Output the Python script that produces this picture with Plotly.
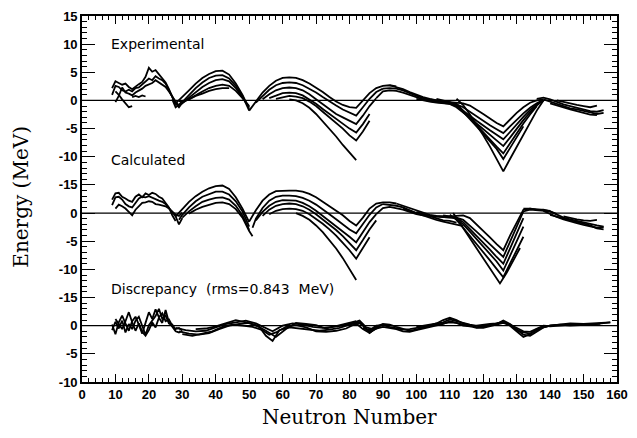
import plotly.graph_objects as go

# ---------------- Experimental shell corrections (MeV) vs neutron number ----------------
exp_l1_n = [9, 10, 11, 12, 13, 14, 15, 16, 17, 18, 19, 20, 21, 22, 23, 24, 25, 26, 27, 28]
exp_l1_e = [2.2, 3.4, 3.1, 2.8, 3.0, 2.4, 2.0, 2.5, 2.9, 3.3, 4.2, 5.8, 5.1, 5.4, 4.6, 4.0, 3.2, 2.0, 0.6, -0.8]
exp_l2_n = [9, 10, 11, 12, 13, 14, 15, 16, 17, 18, 19, 20, 21, 22, 23, 24, 25, 26, 27, 28, 29, 30]
exp_l2_e = [1.0, 2.6, 2.4, 1.8, 1.6, 1.9, 1.6, 2.2, 2.3, 2.8, 3.4, 3.9, 3.6, 4.3, 3.9, 3.6, 3.0, 1.8, 0.6, -0.5, -1.2, -0.4]
exp_l3_n = [10, 11, 12, 13, 14, 15, 16, 17, 18, 19, 20, 21, 22, 23, 24, 25, 26, 27, 28, 29, 30]
exp_l3_e = [-0.3, 0.8, 2.3, 1.4, 1.2, 0.9, 1.4, 1.7, 2.1, 2.6, 2.8, 3.1, 3.6, 3.2, 2.8, 2.4, 1.6, 0.6, -0.2, -0.9, -0.1]
exp_l4_n = [10, 11, 12, 13, 14, 15]
exp_l4_e = [1.6, 1.0, 0.2, -0.5, -1.2, -1.0]
exp_l5_n = [15, 16, 17, 18, 19]
exp_l5_e = [0.6, 0.8, 0.6, 0.9, 0.7]

exp_m1a_n = [28, 30, 32, 34, 36, 38, 40, 42, 44, 46, 48, 50]
exp_m1a_e = [-0.5, 0.6, 1.8, 3.0, 4.0, 4.7, 5.2, 5.3, 4.6, 3.0, 1.0, -1.5]
exp_m1b_n = [27, 28, 30, 32, 34, 36, 38, 40, 42, 44, 46, 48, 50]
exp_m1b_e = [0.2, -1.2, -0.3, 1.0, 2.2, 3.2, 4.0, 4.4, 4.5, 3.9, 2.6, 0.8, -1.8]
exp_m1c_n = [29, 30, 32, 34, 36, 38, 40, 42, 44, 46, 48, 50]
exp_m1c_e = [0.0, -0.5, 0.5, 1.5, 2.4, 3.1, 3.6, 3.8, 3.4, 2.2, 0.6, -1.2]
exp_m1d_n = [30, 32, 34, 36, 38, 40, 42, 44, 46, 48, 50]
exp_m1d_e = [-0.4, 0.2, 0.9, 1.6, 2.2, 2.6, 2.8, 2.6, 1.7, 0.4, -1.0]
exp_m1e_n = [32, 34, 36, 38, 40, 42, 44]
exp_m1e_e = [0.2, 0.8, 1.2, 1.7, 2.0, 2.2, 2.2]

exp_m2a_n = [50, 52, 54, 56, 58, 60, 62, 64, 66, 68, 70, 72, 74, 76, 78, 80, 82, 84, 86, 88, 90, 92, 94]
exp_m2a_e = [-1.8, -0.2, 1.4, 2.6, 3.5, 4.0, 4.1, 4.0, 3.6, 3.0, 2.3, 1.5, 0.6, -0.2, -0.8, -1.2, -1.3, 0.0, 1.3, 2.2, 2.6, 2.7, 2.5]
exp_m2b_n = [52, 54, 56, 58, 60, 62, 64, 66, 68, 70, 72, 74, 76, 78, 80, 82, 84, 86, 88, 90]
exp_m2b_e = [-0.4, 0.8, 1.9, 2.7, 3.1, 3.2, 3.1, 2.7, 2.1, 1.4, 0.6, -0.2, -0.9, -1.6, -2.2, -2.7, -1.2, 0.3, 1.5, 2.1]
exp_m2c_n = [54, 56, 58, 60, 62, 64, 66, 68, 70, 72, 74, 76, 78, 80, 82, 84, 86, 88]
exp_m2c_e = [0.2, 1.1, 1.8, 2.2, 2.3, 2.2, 1.8, 1.1, 0.2, -0.7, -1.6, -2.4, -3.0, -3.6, -4.2, -2.7, -1.0, 0.4]
exp_m2d_n = [56, 58, 60, 62, 64, 66, 68, 70, 72, 74, 76, 78, 80, 82, 84, 86]
exp_m2d_e = [0.4, 0.9, 1.3, 1.4, 1.3, 0.9, 0.2, -0.6, -1.5, -2.4, -3.3, -4.2, -5.0, -5.7, -4.2, -2.4]
exp_m2e_n = [58, 60, 62, 64, 66, 68, 70, 72, 74, 76, 78, 80, 82, 84, 86]
exp_m2e_e = [0.3, 0.6, 0.8, 0.7, 0.4, -0.2, -1.0, -2.0, -3.0, -4.0, -5.0, -6.2, -7.1, -5.5, -3.6]
exp_m2f_n = [62, 64, 66, 68, 70, 72, 74, 76, 78, 80, 82]
exp_m2f_e = [0.2, 0.0, -0.5, -1.3, -2.4, -3.7, -5.0, -6.4, -7.9, -9.3, -10.6]

exp_m3a_n = [92, 94, 96, 98, 100, 102, 104, 106, 108, 110, 112, 114, 116, 118, 120, 122, 124, 126, 128, 130, 132, 134, 136, 138]
exp_m3a_e = [2.7, 2.4, 2.0, 1.5, 1.0, 0.6, 0.3, 0.0, -0.2, -0.3, -0.4, -0.5, -0.9, -1.6, -2.4, -3.2, -4.0, -4.6, -3.4, -2.2, -1.2, -0.4, 0.0, 0.2]
exp_m3b_n = [90, 92, 94, 96, 98, 100, 102, 104, 106, 108, 110, 112, 114, 116, 118, 120, 122, 124, 126, 128, 130, 132, 134, 136, 138]
exp_m3b_e = [2.1, 2.2, 2.1, 1.8, 1.3, 0.8, 0.4, 0.1, -0.2, -0.4, -0.5, -0.7, -1.2, -2.0, -2.9, -3.7, -4.4, -5.1, -5.8, -4.6, -3.4, -2.3, -1.3, -0.5, 0.1]
exp_m3c_n = [88, 90, 92, 94, 96, 98, 100, 102, 104, 106, 108, 110, 112, 114, 116, 118, 120, 122, 124, 126, 128, 130, 132, 134, 136, 138]
exp_m3c_e = [0.4, 1.6, 1.8, 1.7, 1.4, 1.0, 0.5, 0.2, -0.1, -0.3, -0.5, -0.6, -1.0, -1.8, -2.7, -3.6, -4.5, -5.3, -6.1, -6.9, -5.6, -4.2, -2.9, -1.7, -0.7, 0.0]
exp_m3d_n = [100, 102, 104, 106, 108, 110, 112, 114, 116, 118, 120, 122, 124, 126, 128, 130, 132, 134, 136, 138]
exp_m3d_e = [0.3, 0.0, -0.2, -0.4, -0.5, -0.6, -1.2, -2.1, -3.1, -4.1, -5.1, -6.1, -7.1, -8.1, -6.6, -5.0, -3.5, -2.1, -0.9, 0.1]
exp_m3e_n = [104, 106, 108, 110, 112, 114, 116, 118, 120, 122, 124, 126, 128, 130, 132, 134, 136]
exp_m3e_e = [0.2, 0.0, -0.2, -0.4, -0.6, -1.8, -3.1, -4.4, -5.7, -7.0, -8.2, -9.4, -7.6, -5.8, -4.1, -2.5, -1.0]
exp_m3f_n = [106, 108, 110, 112, 114, 116, 118, 120, 122, 124, 126, 128, 130, 132]
exp_m3f_e = [0.3, 0.0, -0.3, -0.8, -2.0, -3.3, -4.6, -5.9, -7.2, -8.6, -10.4, -8.4, -6.4, -4.6]
exp_m3g_n = [112, 114, 116, 118, 120, 122, 124, 126, 128, 130, 132, 134, 136, 138]
exp_m3g_e = [0.3, -0.8, -2.5, -4.3, -6.2, -8.2, -10.3, -12.6, -10.4, -8.2, -6.0, -3.8, -1.8, 0.0]

exp_r1_n = [136, 138, 140, 142, 144, 146, 148, 150, 152, 154, 156]
exp_r1_e = [0.3, 0.5, 0.2, -0.3, -0.7, -1.0, -1.3, -1.6, -1.9, -2.0, -1.7]
exp_r2_n = [138, 140, 142, 144, 146, 148, 150, 152, 154, 156]
exp_r2_e = [0.2, -0.2, -0.6, -1.0, -1.4, -1.6, -1.8, -2.1, -2.4, -2.2]
exp_r3_n = [140, 142, 144, 146, 148, 150, 152, 154]
exp_r3_e = [-0.5, -0.9, -1.3, -1.6, -1.9, -2.2, -2.5, -2.6]
exp_r4_n = [142, 144, 146, 148, 150, 152, 154]
exp_r4_e = [0.0, -0.3, -0.6, -0.8, -1.0, -1.2, -0.9]

# ---------------- Calculated shell corrections (MeV) ----------------
calc_l1_n = [9, 10, 11, 12, 13, 14, 15, 16, 17, 18, 19, 20, 21, 22, 23, 24, 25, 26, 27, 28]
calc_l1_e = [2.4, 3.5, 3.6, 2.9, 2.6, 2.2, 2.0, 2.9, 3.3, 2.8, 3.5, 3.2, 3.6, 3.4, 2.9, 2.6, 1.8, 1.0, -0.4, -1.4]
calc_l2_n = [9, 10, 11, 12, 13, 14, 15, 16, 17, 18, 19, 20, 21, 22, 23, 24, 25, 26, 27, 28, 29, 30]
calc_l2_e = [1.4, 2.8, 2.9, 2.4, 1.6, 1.2, 1.0, 1.9, 2.6, 2.9, 2.8, 3.0, 2.7, 2.4, 2.2, 2.0, 1.6, 0.9, 0.1, -0.6, -2.0, -0.9]
calc_l3_n = [10, 11, 12, 13, 14, 15, 16, 17, 18, 19, 20, 21, 22, 23, 24, 25, 26, 27, 28, 29, 30]
calc_l3_e = [0.8, 1.5, 1.2, 0.8, 0.2, -0.4, 0.6, 1.3, 1.8, 1.9, 2.1, 2.0, 1.6, 1.5, 1.3, 1.2, 0.8, 0.2, -0.3, -0.5, 0.1]

calc_m1a_n = [28, 30, 32, 34, 36, 38, 40, 42, 44, 46, 48, 50]
calc_m1a_e = [-0.6, 0.8, 2.0, 3.0, 3.8, 4.4, 4.8, 4.9, 4.3, 2.8, 0.8, -1.6]
calc_m1b_n = [29, 30, 32, 34, 36, 38, 40, 42, 44, 46, 48, 50]
calc_m1b_e = [-1.2, -0.3, 1.0, 2.1, 2.9, 3.4, 3.8, 3.8, 3.3, 2.1, 0.3, -2.4]
calc_m1c_n = [30, 32, 34, 36, 38, 40, 42, 44, 46, 48, 50]
calc_m1c_e = [-0.8, 0.3, 1.2, 2.0, 2.4, 2.7, 2.8, 2.4, 1.3, -0.4, -3.0]
calc_m1d_n = [32, 34, 36, 38, 40, 42, 44, 46, 48, 50, 51]
calc_m1d_e = [-0.1, 0.6, 1.1, 1.5, 1.8, 1.9, 1.6, 0.7, -0.8, -3.2, -4.1]

calc_m2a_n = [50, 52, 54, 56, 58, 60, 62, 64, 66, 68, 70, 72, 74, 76, 78, 80, 82, 84, 86, 88, 90, 92, 94]
calc_m2a_e = [-1.5, 0.5, 2.2, 3.3, 3.9, 4.0, 4.0, 4.0, 3.8, 3.4, 2.8, 2.0, 1.2, 0.4, -0.4, -1.4, -2.2, -0.8, 0.8, 1.7, 1.9, 1.9, 1.7]
calc_m2b_n = [51, 52, 54, 56, 58, 60, 62, 64, 66, 68, 70, 72, 74, 76, 78, 80, 82, 84, 86, 88, 90]
calc_m2b_e = [-2.6, -1.0, 0.9, 2.2, 2.9, 3.1, 3.1, 3.0, 2.7, 2.2, 1.5, 0.7, -0.2, -1.1, -2.0, -2.9, -3.6, -2.0, -0.3, 1.0, 1.6]
calc_m2c_n = [52, 54, 56, 58, 60, 62, 64, 66, 68, 70, 72, 74, 76, 78, 80, 82, 84, 86, 88]
calc_m2c_e = [-1.3, 0.2, 1.3, 2.0, 2.3, 2.3, 2.2, 1.8, 1.2, 0.4, -0.5, -1.4, -2.3, -3.2, -4.2, -5.2, -3.4, -1.6, -0.2]
calc_m2d_n = [54, 56, 58, 60, 62, 64, 66, 68, 70, 72, 74, 76, 78, 80, 82, 84, 86, 88]
calc_m2d_e = [-0.5, 0.6, 1.3, 1.6, 1.7, 1.6, 1.2, 0.6, -0.2, -1.1, -2.0, -3.0, -4.1, -5.3, -6.6, -4.8, -2.9, -1.3]
calc_m2e_n = [56, 58, 60, 62, 64, 66, 68, 70, 72, 74, 76, 78, 80, 82, 84, 86]
calc_m2e_e = [-0.2, 0.4, 0.7, 0.8, 0.7, 0.4, -0.2, -1.0, -1.9, -2.9, -4.0, -5.3, -6.6, -8.1, -6.2, -4.3]
calc_m2f_n = [64, 66, 68, 70, 72, 74, 76, 78, 80, 82]
calc_m2f_e = [0.0, -0.5, -1.2, -2.2, -3.4, -4.8, -6.3, -8.0, -9.9, -11.9]

calc_m3a_n = [94, 96, 98, 100, 102, 104, 106, 108, 110, 112, 114, 116, 118, 120, 122, 124, 126, 128, 130, 132, 134, 136, 138, 140]
calc_m3a_e = [1.7, 1.3, 0.8, 0.4, 0.0, -0.3, -0.5, -0.6, -0.6, -0.5, -0.4, -0.9, -2.0, -3.2, -4.3, -5.5, -6.6, -4.0, -1.6, 0.6, 0.8, 0.7, 0.6, 0.4]
calc_m3b_n = [90, 92, 94, 96, 98, 100, 102, 104, 106, 108, 110, 112, 114, 116, 118, 120, 122, 124, 126, 128, 130, 132, 134, 136, 138, 140, 142]
calc_m3b_e = [1.6, 1.5, 1.3, 1.0, 0.5, 0.0, -0.3, -0.5, -0.6, -0.7, -0.7, -0.8, -1.2, -2.2, -3.3, -4.4, -5.5, -6.6, -7.8, -5.1, -2.4, 0.3, 0.6, 0.5, 0.4, 0.3, -0.2]
calc_m3c_n = [88, 90, 92, 94, 96, 98, 100, 102, 104, 106, 108, 110, 112, 114, 116, 118, 120, 122, 124, 126, 128, 130, 132]
calc_m3c_e = [-0.2, 0.9, 1.1, 0.9, 0.6, 0.2, -0.2, -0.4, -0.5, -0.6, -0.6, -0.7, -0.9, -1.6, -2.8, -4.0, -5.3, -6.5, -7.8, -9.0, -6.3, -3.6, -0.9]
calc_m3d_n = [108, 110, 112, 114, 116, 118, 120, 122, 124, 126, 128, 130, 132]
calc_m3d_e = [-0.4, -0.6, -1.0, -2.0, -3.3, -4.6, -5.9, -7.2, -8.6, -10.2, -7.6, -5.0, -2.4]
calc_m3e_n = [110, 112, 114, 116, 118, 120, 122, 124, 126, 128, 130, 132]
calc_m3e_e = [-0.3, -1.2, -2.6, -4.0, -5.5, -7.0, -8.4, -9.9, -11.4, -9.0, -6.6, -4.2]
calc_m3f_n = [111, 113, 115, 117, 119, 121, 123, 125, 127, 129, 131]
calc_m3f_e = [0.0, -1.8, -3.6, -5.4, -7.2, -9.0, -10.8, -12.5, -10.6, -8.4, -6.2]
calc_t1_n = [96, 98, 100, 102, 104, 106, 108, 110, 112, 114]
calc_t1_e = [0.8, 0.4, 0.0, -0.5, -0.9, -1.2, -1.5, -1.8, -2.0, -2.3]
calc_t2_n = [100, 102, 104, 106, 108, 110, 112]
calc_t2_e = [0.2, -0.2, -0.6, -1.0, -1.3, -1.4, -1.7]

calc_r1_n = [132, 134, 136, 138, 140, 142, 144, 146, 148, 150, 152, 154, 156]
calc_r1_e = [0.8, 0.8, 0.6, 0.6, 0.3, -0.3, -0.8, -1.1, -1.4, -1.7, -2.0, -2.2, -2.4]
calc_r2_n = [138, 140, 142, 144, 146, 148, 150, 152, 154, 156]
calc_r2_e = [0.4, -0.2, -0.7, -1.1, -1.5, -1.8, -2.1, -2.4, -2.6, -2.5]
calc_r3_n = [140, 142, 144, 146, 148, 150, 152, 154, 156]
calc_r3_e = [-0.3, -0.6, -0.9, -1.2, -1.5, -1.8, -2.2, -2.7, -2.9]
calc_r4_n = [144, 146, 148, 150, 152, 154]
calc_r4_e = [-0.6, -0.9, -1.1, -1.3, -1.4, -1.2]

# ---------------- Discrepancy (experimental - calculated, MeV) ----------------
disc_1_n = [9, 10, 11, 12, 13, 14, 15, 16, 17, 18, 19, 20, 21, 22, 23, 24, 25, 26, 27, 28, 29, 30]
disc_1_e = [0.2, -1.5, 0.6, 1.8, 0.4, -0.9, 0.8, 1.6, 0.2, -1.4, 0.5, 2.4, 1.2, 2.9, 1.5, 2.2, 0.8, 1.1, 0.0, -0.6, -0.4, -0.8]
disc_2_n = [9, 10, 11, 12, 13, 14, 15, 16, 17, 18, 19, 20, 21, 22, 23, 24, 25, 26, 27, 28]
disc_2_e = [-0.8, 0.7, -0.5, 0.9, -1.2, 0.3, -0.6, 0.9, 1.6, -0.2, -1.6, 0.1, 0.9, 1.7, 3.0, 1.2, 1.8, 0.4, 0.2, -0.8]
disc_3_n = [10, 11, 12, 13, 14, 15, 16, 17, 18, 19, 20, 21, 22, 23, 24, 25, 26, 27, 28, 29, 30]
disc_3_e = [1.2, 0.2, -0.6, 0.8, 2.4, 0.6, -0.9, 0.4, -1.1, -1.8, -0.8, 0.6, -0.3, 1.4, 0.5, 2.8, 0.6, -0.2, -1.0, -1.2, -0.9]
disc_4_n = [28, 31, 34, 37, 40, 43, 46, 49, 52, 55, 57, 60, 63, 66, 69, 72, 75, 78, 81, 83, 85, 87, 90]
disc_4_e = [-0.4, -0.8, -1.0, -0.9, -0.3, 0.3, 0.6, 0.9, 0.4, -0.5, -1.0, 0.0, 0.4, 0.2, -0.2, -0.4, -0.2, 0.0, 0.5, 0.9, -0.3, -0.6, 0.2]
disc_5_n = [29, 32, 35, 38, 41, 44, 47, 50, 53, 55, 57, 59, 62, 65, 68, 71, 74, 77, 80, 83, 86, 89]
disc_5_e = [-1.0, -1.4, -1.6, -1.3, -0.6, 0.0, 0.3, 0.5, -0.2, -1.8, -2.7, -0.8, -0.3, -0.5, -0.6, -0.9, -0.7, -0.4, 0.2, 0.6, -1.2, -0.2]
disc_6_n = [30, 33, 36, 39, 42, 45, 48, 51, 54, 56, 58, 61, 64, 67, 70, 73, 76, 79, 82, 84, 86, 88]
disc_6_e = [-1.5, -1.8, -1.4, -1.0, -0.2, 0.2, 0.0, -0.2, -0.8, -1.6, -1.2, -0.2, 0.1, -0.3, -1.0, -1.1, -0.9, -0.5, 0.4, -0.6, -1.3, -0.4]
disc_7_n = [34, 37, 40, 43, 46, 49, 52, 55, 58, 61, 64, 67, 70, 73, 76, 79, 82]
disc_7_e = [-0.6, -0.5, -0.1, 0.5, 1.0, 0.6, 0.1, -0.9, -2.0, -0.6, 0.5, 0.3, 0.1, -0.5, -0.1, 0.3, 0.8]
disc_8_n = [82, 84, 86, 88, 90, 92, 94, 96, 98, 100, 102, 104, 106, 108, 110, 112, 114, 116, 118, 120,
            122, 124, 126, 128, 130, 132, 134, 136, 138, 140, 143, 146, 149, 152, 155, 158]
disc_8_e = [0.6, 0.2, -1.3, -0.2, 0.3, 0.2, -0.2, -0.6, -0.9, -0.7, -0.3, 0.0, 0.4, 1.0, 1.4, 1.0, 0.4, 0.1, -0.3, -0.2,
            0.2, 0.3, 0.9, 0.3, -0.6, -1.6, -1.8, -1.0, -0.3, 0.0, 0.2, 0.2, 0.3, 0.2, 0.4, 0.6]
disc_9_n = [84, 86, 88, 90, 92, 94, 96, 98, 100, 102, 104, 106, 108, 110, 112, 114, 116, 118, 120, 122,
            124, 126, 128, 130, 132, 134, 136, 138, 140, 143, 146, 149, 152, 155]
disc_9_e = [-0.4, -0.8, 0.0, 0.1, -0.2, -0.5, -0.7, -0.6, -0.4, -0.1, 0.1, 0.2, 0.4, 0.6, 0.5, 0.2, -0.2, -0.4, -0.4, -0.1,
            0.2, 0.5, 0.1, -0.8, -1.2, -1.4, -0.8, -0.2, 0.0, 0.1, 0.0, 0.1, 0.2, 0.1]
disc_10_n = [86, 88, 90, 92, 94, 96, 98, 100, 102, 104, 106, 108, 110, 112, 114, 116, 118, 120, 122, 124,
             126, 128, 130, 132, 134, 136, 138, 140, 144, 148]
disc_10_e = [-1.0, -0.5, -0.2, -0.4, -0.6, -1.0, -1.1, -0.8, -0.5, -0.2, 0.0, 0.3, 0.8, 0.5, 0.0, -0.1, 0.0, 0.2, 0.3, 0.4,
             0.6, 0.2, -0.4, -1.0, -1.1, -0.5, 0.0, -0.1, 0.1, 0.3]
disc_11_n = [100, 104, 108, 110, 112, 116, 120, 124, 126, 128, 132, 134, 136, 140, 146, 150, 154, 158]
disc_11_e = [-0.2, 0.2, 0.6, 1.1, 0.8, 0.2, -0.2, 0.4, 0.7, 0.0, -2.0, -1.5, -0.6, 0.0, 0.4, 0.3, 0.5, 0.6]

# Axis ticks (stacked panels share one axis with relabelled ticks)
y_tick_vals = [15, 10, 5, 0, -5, -10, -15, -20, -25, -30, -35, -40, -45, -50]
y_tick_text = ["15", "10", "5", "0", "-5", "-10", "-15", "0", "-5", "-10", "-15", "0", "-5", "-10"]
x_tick_vals = [0, 10, 20, 30, 40, 50, 60, 70, 80, 90, 100, 110, 120, 130, 140, 150, 160]
x_tick_text = ["0", "10", "20", "30", "40", "50", "60", "70", "80", "90", "100", "110", "120", "130", "140", "150", "160"]

panel_labels = ["Experimental", "Calculated", "Discrepancy  (rms=0.843  MeV)"]
panel_offsets = [0, -20, -40]

exp_curves = [(exp_l1_n, exp_l1_e), (exp_l2_n, exp_l2_e), (exp_l3_n, exp_l3_e), (exp_l4_n, exp_l4_e),
              (exp_l5_n, exp_l5_e), (exp_m1a_n, exp_m1a_e), (exp_m1b_n, exp_m1b_e), (exp_m1c_n, exp_m1c_e),
              (exp_m1d_n, exp_m1d_e), (exp_m1e_n, exp_m1e_e), (exp_m2a_n, exp_m2a_e), (exp_m2b_n, exp_m2b_e),
              (exp_m2c_n, exp_m2c_e), (exp_m2d_n, exp_m2d_e), (exp_m2e_n, exp_m2e_e), (exp_m2f_n, exp_m2f_e),
              (exp_m3a_n, exp_m3a_e), (exp_m3b_n, exp_m3b_e), (exp_m3c_n, exp_m3c_e), (exp_m3d_n, exp_m3d_e),
              (exp_m3e_n, exp_m3e_e), (exp_m3f_n, exp_m3f_e), (exp_m3g_n, exp_m3g_e), (exp_r1_n, exp_r1_e),
              (exp_r2_n, exp_r2_e), (exp_r3_n, exp_r3_e), (exp_r4_n, exp_r4_e)]
calc_curves = [(calc_l1_n, calc_l1_e), (calc_l2_n, calc_l2_e), (calc_l3_n, calc_l3_e),
               (calc_m1a_n, calc_m1a_e), (calc_m1b_n, calc_m1b_e), (calc_m1c_n, calc_m1c_e), (calc_m1d_n, calc_m1d_e),
               (calc_m2a_n, calc_m2a_e), (calc_m2b_n, calc_m2b_e), (calc_m2c_n, calc_m2c_e), (calc_m2d_n, calc_m2d_e),
               (calc_m2e_n, calc_m2e_e), (calc_m2f_n, calc_m2f_e), (calc_m3a_n, calc_m3a_e), (calc_m3b_n, calc_m3b_e),
               (calc_m3c_n, calc_m3c_e), (calc_m3d_n, calc_m3d_e), (calc_m3e_n, calc_m3e_e), (calc_m3f_n, calc_m3f_e),
               (calc_t1_n, calc_t1_e), (calc_t2_n, calc_t2_e), (calc_r1_n, calc_r1_e), (calc_r2_n, calc_r2_e),
               (calc_r3_n, calc_r3_e), (calc_r4_n, calc_r4_e)]
disc_curves = [(disc_1_n, disc_1_e), (disc_2_n, disc_2_e), (disc_3_n, disc_3_e), (disc_4_n, disc_4_e),
               (disc_5_n, disc_5_e), (disc_6_n, disc_6_e), (disc_7_n, disc_7_e), (disc_8_n, disc_8_e),
               (disc_9_n, disc_9_e), (disc_10_n, disc_10_e), (disc_11_n, disc_11_e)]

fig = go.Figure()

for curves, off in zip([exp_curves, calc_curves, disc_curves], panel_offsets):
    for n_vals, e_vals in curves:
        if len(n_vals) != len(e_vals):
            raise ValueError("length mismatch %d vs %d at N=%s" % (len(n_vals), len(e_vals), n_vals[0]))
        fig.add_trace(go.Scatter(
            x=n_vals, y=[v + off for v in e_vals], mode="lines",
            line=dict(color="black", width=1.8), hoverinfo="skip", showlegend=False))
    fig.add_hline(y=off, line=dict(color="black", width=1.2))

label_y = [10, -10.5, -33.5]
for text, ly in zip(panel_labels, label_y):
    fig.add_annotation(x=8.2, y=ly, xref="x", yref="y", text=text, showarrow=False,
                       xanchor="left", yanchor="middle",
                       font=dict(family="DejaVu Sans", size=14, color="black"))

fig.add_annotation(x=0.5, y=-0.095, xref="paper", yref="paper", text="Neutron Number",
                   showarrow=False, xanchor="center", yanchor="middle",
                   font=dict(family="DejaVu Serif", size=20, color="black"))
fig.add_annotation(x=-0.113, y=0.505, xref="paper", yref="paper", text="Energy (MeV)",
                   showarrow=False, xanchor="center", yanchor="middle", textangle=-90,
                   font=dict(family="DejaVu Serif", size=20, color="black"))

tick_font = dict(family="Liberation Sans", size=13, color="black")

fig.update_xaxes(range=[0, 160], tickmode="array", tickvals=x_tick_vals,
                 ticktext=["<b>%s</b>" % t for t in x_tick_text], ticks="inside", ticklen=8,
                 tickwidth=1.3, tickcolor="black", mirror="allticks", showline=True, linewidth=1.6,
                 linecolor="black", showgrid=False, zeroline=False, tickfont=tick_font,
                 minor=dict(ticks="inside", ticklen=4, tickmode="linear", tick0=0, dtick=2,
                            tickcolor="black", tickwidth=1, showgrid=False))
fig.update_yaxes(range=[-50, 15], tickmode="array", tickvals=y_tick_vals,
                 ticktext=["<b>%s</b>" % t for t in y_tick_text],
                 ticks="inside", ticklen=13, tickwidth=1.3, tickcolor="black", mirror="allticks",
                 showline=True, linewidth=1.6, linecolor="black", showgrid=False, zeroline=False,
                 tickfont=tick_font,
                 minor=dict(ticks="inside", ticklen=5, tickmode="linear", tick0=0, dtick=1,
                            tickcolor="black", tickwidth=1, showgrid=False))

fig.update_layout(width=637, height=438, margin=dict(l=82, r=9, t=15, b=56),
                  paper_bgcolor="white", plot_bgcolor="white", showlegend=False)

fig.write_html("out.html", config={"displayModeBar": False},
               post_script="document.body.style.margin='0';")
